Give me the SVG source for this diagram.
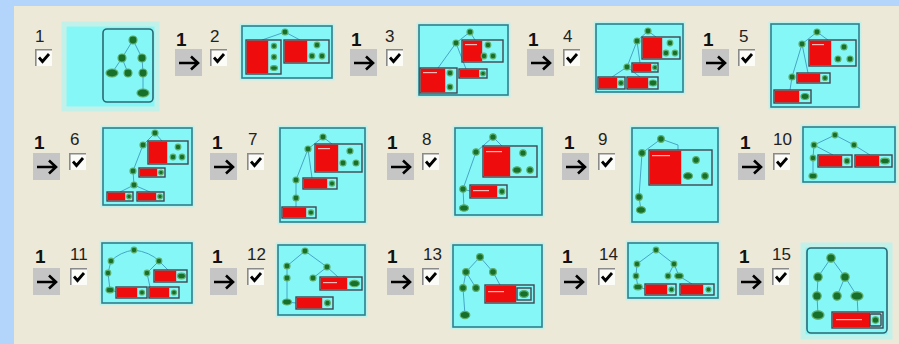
<svg xmlns="http://www.w3.org/2000/svg" xmlns:xlink="http://www.w3.org/1999/xlink" width="899" height="344" viewBox="0 0 899 344">
<style>
.lb{font-family:"Liberation Sans",Arial,sans-serif;font-size:17px;fill:#222}
.b1{font-family:"Liberation Sans",Arial,sans-serif;font-size:19px;font-weight:bold;fill:#111}
.glow{fill:#86f7f7;stroke:#c2f1ea;stroke-width:5}
.th{fill:#86f7f7;stroke:#2f7f8c;stroke-width:1.6}
.in{fill:none;stroke:#2a6a74;stroke-width:1.6}
.e{stroke:#3d9cc0;stroke-width:0.9;fill:none}
.n{fill:#16702a;stroke:#5eae6e;stroke-width:1.2}
.fr{fill:#86f7f7;stroke:#3e4650;stroke-width:1.4}
.rd{fill:#ee0c0c}
.tx{fill:#ffb8b8}
</style>
<defs>
<g id="cb">
<rect x="0" y="0" width="17" height="17" fill="#fbfbf8"/>
<path d="M0.8,17 V0.8 H17" stroke="#8a8a8a" stroke-width="1.6" fill="none"/>
<polyline points="4,8.5 7.5,12.5 14,5" stroke="#000" stroke-width="2.8" fill="none"/>
</g>
<g id="ab">
<rect x="0" y="0" width="27" height="27" fill="#c5c5c5"/>
<path d="M4,14 H23 M16,7.5 L23,14 L16,20.5" stroke="#000" stroke-width="2.6" fill="none"/>
</g>
</defs>
<rect x="0" y="0" width="899" height="344" fill="#b3d5fb"/>
<rect x="14" y="6" width="885" height="338" fill="#ece9d8"/>

<g id="connectors">
<text class="b1" x="176" y="46">1</text><use xlink:href="#ab" x="175" y="49"/>
<text class="b1" x="351" y="46">1</text><use xlink:href="#ab" x="350" y="49"/>
<text class="b1" x="528" y="46">1</text><use xlink:href="#ab" x="527" y="49"/>
<text class="b1" x="703" y="46">1</text><use xlink:href="#ab" x="702" y="49"/>
<text class="b1" x="34" y="149">1</text><use xlink:href="#ab" x="33" y="153"/>
<text class="b1" x="212" y="149">1</text><use xlink:href="#ab" x="210" y="153"/>
<text class="b1" x="387" y="149">1</text><use xlink:href="#ab" x="387" y="153"/>
<text class="b1" x="564" y="149">1</text><use xlink:href="#ab" x="562" y="153"/>
<text class="b1" x="740" y="149">1</text><use xlink:href="#ab" x="738" y="153"/>
<text class="b1" x="35" y="263">1</text><use xlink:href="#ab" x="33" y="268"/>
<text class="b1" x="212" y="263">1</text><use xlink:href="#ab" x="210" y="268"/>
<text class="b1" x="387" y="263">1</text><use xlink:href="#ab" x="387" y="268"/>
<text class="b1" x="562" y="263">1</text><use xlink:href="#ab" x="560" y="268"/>
<text class="b1" x="739" y="263">1</text><use xlink:href="#ab" x="737" y="268"/>
</g>

<g id="step1">
<text class="lb" x="35" y="42">1</text><use xlink:href="#cb" x="35" y="49"/>
<rect class="glow" x="64" y="24" width="93" height="85"/>
<rect class="in" x="103" y="29" width="50" height="73" rx="4"/>
<path class="e" d="M133,40 L122,58 M133,40 L142,58 M122,58 L112,73 M122,58 L128,73 M142,58 L143,73 M143,73 L143,93"/>
<circle class="n" cx="133" cy="40" r="4"/><circle class="n" cx="122" cy="58" r="4"/><circle class="n" cx="142" cy="58" r="4"/>
<ellipse class="n" cx="112" cy="73" rx="6" ry="4"/><circle class="n" cx="128" cy="73" r="4"/><circle class="n" cx="143" cy="73" r="4"/>
<ellipse class="n" cx="143" cy="93" rx="6" ry="4"/>
</g>

<g id="step2">
<text class="lb" x="210" y="42">2</text><use xlink:href="#cb" x="210" y="49"/>
<rect class="glow" x="242" y="26" width="90" height="52"/><rect class="th" x="242" y="26" width="90" height="52"/>
<path class="e" d="M285,32 L262,40 M285,32 L300,40"/>
<circle class="n" cx="285" cy="32" r="3"/>
<rect class="fr" x="246" y="40" width="35" height="34"/><rect class="rd" x="246.7" y="40.7" width="21.5" height="32.6"/>
<circle class="n" cx="274" cy="46" r="2.6"/><circle class="n" cx="274" cy="57" r="2.6"/><ellipse class="n" cx="274" cy="68" rx="3.5" ry="2.4"/>
<rect class="fr" x="284" y="40" width="45" height="23"/><rect class="rd" x="284.7" y="40.7" width="22.5" height="21.6"/>
<circle class="n" cx="317" cy="45" r="2.8"/><circle class="n" cx="312" cy="56" r="2.8"/><circle class="n" cx="322" cy="56" r="2.8"/>
</g>

<g id="step3">
<text class="lb" x="385" y="42">3</text><use xlink:href="#cb" x="386" y="49"/>
<rect class="glow" x="419" y="25" width="89" height="70"/><rect class="th" x="419" y="25" width="89" height="70"/>
<path class="e" d="M470,32 L456,43 M470,32 L475,40 M456,43 L438,68 M456,43 L466,69"/>
<circle class="n" cx="470" cy="32" r="3"/><circle class="n" cx="456" cy="43" r="3"/>
<rect class="fr" x="462" y="40" width="41" height="22"/><rect class="rd" x="462.7" y="40.7" width="19.5" height="20.6"/>
<rect class="tx" x="465" y="44" width="12" height="1.2"/>
<circle class="n" cx="488" cy="45" r="2.8"/><circle class="n" cx="484" cy="56" r="2.8"/><circle class="n" cx="493" cy="56" r="2.8"/>
<rect class="fr" x="420" y="68" width="37" height="25"/><rect class="rd" x="420.7" y="68.7" width="24.5" height="23.6"/>
<rect class="tx" x="423" y="72" width="14" height="1.2"/>
<circle class="n" cx="450" cy="73" r="2.8"/><circle class="n" cx="450" cy="87" r="2.8"/>
<rect class="fr" x="459" y="69" width="28" height="9"/><rect class="rd" x="459.7" y="69.7" width="19.5" height="7.6"/>
<circle class="n" cx="483" cy="73.5" r="2.4"/>
</g>

<g id="step4">
<text class="lb" x="563" y="42">4</text><use xlink:href="#cb" x="563" y="49"/>
<rect class="glow" x="596" y="24" width="87" height="68"/><rect class="th" x="596" y="24" width="87" height="68"/>
<path class="e" d="M648,31 L637,41 M648,31 L656,37 M637,41 L627,67 M627,67 L612,77 M627,67 L640,77 M637,41 L640,63"/>
<circle class="n" cx="648" cy="31" r="3"/><circle class="n" cx="637" cy="41" r="3"/><circle class="n" cx="627" cy="67" r="3"/>
<rect class="fr" x="642" y="37" width="38" height="22"/><rect class="rd" x="642.7" y="37.7" width="19.5" height="20.6"/>
<circle class="n" cx="670" cy="43" r="2.8"/><circle class="n" cx="666" cy="53" r="2.8"/><circle class="n" cx="675" cy="53" r="2.8"/>
<rect class="fr" x="632" y="63" width="26" height="9"/><rect class="rd" x="632.7" y="63.7" width="18.5" height="7.6"/><circle class="n" cx="655" cy="67.5" r="2.3"/>
<rect class="fr" x="627" y="77" width="31" height="12"/><rect class="rd" x="627.7" y="77.7" width="20.5" height="10.6"/><ellipse class="n" cx="653" cy="83" rx="3.8" ry="3"/>
<rect class="fr" x="598" y="77" width="27" height="12"/><rect class="rd" x="598.7" y="77.7" width="18.5" height="10.6"/><circle class="n" cx="621" cy="83" r="2.6"/>
</g>

<g id="step5">
<text class="lb" x="739" y="42">5</text><use xlink:href="#cb" x="738" y="49"/>
<rect class="glow" x="771" y="24" width="88" height="83"/><rect class="th" x="771" y="24" width="88" height="83"/>
<path class="e" d="M817,32 L802,44 M817,32 L828,40 M802,44 L792,77 M792,77 L790,90 M802,44 L808,73"/>
<circle class="n" cx="817" cy="32" r="3"/><circle class="n" cx="802" cy="44" r="3"/><circle class="n" cx="792" cy="77" r="3"/>
<rect class="fr" x="809" y="40" width="47" height="26"/><rect class="rd" x="809.7" y="40.7" width="21.5" height="24.6"/>
<rect class="tx" x="812" y="44" width="12" height="1.2"/>
<circle class="n" cx="844" cy="47" r="3"/><circle class="n" cx="838" cy="59" r="3"/><circle class="n" cx="850" cy="59" r="3"/>
<rect class="fr" x="797" y="73" width="33" height="10"/><rect class="rd" x="797.7" y="73.7" width="22.5" height="8.6"/><circle class="n" cx="825" cy="78" r="2.5"/>
<rect class="fr" x="774" y="90" width="37" height="13"/><rect class="rd" x="774.7" y="90.7" width="24.5" height="11.6"/><ellipse class="n" cx="805" cy="96.5" rx="4" ry="3"/>
</g>

<g id="step6">
<text class="lb" x="70" y="145">6</text><use xlink:href="#cb" x="69" y="153"/>
<rect class="glow" x="103" y="128" width="89" height="77"/><rect class="th" x="103" y="128" width="89" height="77"/>
<path class="e" d="M155,133 L143,145 M155,133 L162,141 M143,145 L133,171 M133,171 L134,185 M134,185 L120,192 M134,185 L150,192"/>
<circle class="n" cx="155" cy="133" r="3"/><circle class="n" cx="143" cy="145" r="3"/><circle class="n" cx="133" cy="171" r="3"/><circle class="n" cx="134" cy="185" r="3"/>
<rect class="fr" x="148" y="141" width="40" height="23"/><rect class="rd" x="148.7" y="141.7" width="18.5" height="21.6"/>
<circle class="n" cx="178" cy="147" r="2.8"/><circle class="n" cx="173" cy="157" r="2.8"/><circle class="n" cx="182" cy="157" r="2.8"/>
<rect class="fr" x="139" y="168" width="26" height="9"/><rect class="rd" x="139.7" y="168.7" width="17.5" height="7.6"/><circle class="n" cx="161" cy="172.5" r="2.3"/>
<rect class="fr" x="107" y="192" width="26" height="9"/><rect class="rd" x="107.7" y="192.7" width="17.5" height="7.6"/><circle class="n" cx="129" cy="196.5" r="2.3"/>
<rect class="fr" x="137" y="192" width="27" height="9"/><rect class="rd" x="137.7" y="192.7" width="18.5" height="7.6"/><circle class="n" cx="160" cy="196.5" r="2.3"/>
</g>

<g id="step7">
<text class="lb" x="248" y="145">7</text><use xlink:href="#cb" x="247" y="153"/>
<rect class="glow" x="280" y="128" width="85" height="94"/><rect class="th" x="280" y="128" width="85" height="94"/>
<path class="e" d="M323,137 L308,149 M323,137 L332,144 M308,149 L296,180 M296,180 L296,198 M296,198 L296,207 M308,149 L312,178"/>
<circle class="n" cx="323" cy="137" r="3"/><circle class="n" cx="308" cy="149" r="3"/><circle class="n" cx="296" cy="180" r="3"/><circle class="n" cx="296" cy="198" r="3"/>
<rect class="fr" x="315" y="144" width="47" height="28"/><rect class="rd" x="315.7" y="144.7" width="22.5" height="26.6"/>
<rect class="tx" x="318" y="148" width="12" height="1.2"/>
<circle class="n" cx="350" cy="151" r="3"/><circle class="n" cx="343" cy="163" r="3"/><circle class="n" cx="356" cy="163" r="3"/>
<rect class="fr" x="303" y="178" width="34" height="11"/><rect class="rd" x="303.7" y="178.7" width="23.5" height="9.6"/><circle class="n" cx="332" cy="183.5" r="2.6"/>
<rect class="fr" x="282" y="207" width="34" height="11"/><rect class="rd" x="282.7" y="207.7" width="23.5" height="9.6"/><circle class="n" cx="311" cy="212.5" r="2.6"/>
</g>

<g id="step8">
<text class="lb" x="422" y="145">8</text><use xlink:href="#cb" x="422" y="153"/>
<rect class="glow" x="455" y="128" width="87" height="87"/><rect class="th" x="455" y="128" width="87" height="87"/>
<path class="e" d="M493,137 L476,152 M493,137 L502,146 M476,152 L463,189 M463,189 L464,208 M463,189 L470,191"/>
<circle class="n" cx="493" cy="137" r="3.2"/><circle class="n" cx="476" cy="152" r="3.2"/><circle class="n" cx="463" cy="189" r="3.2"/><ellipse class="n" cx="464" cy="208" rx="4.5" ry="3.2"/>
<rect class="fr" x="483" y="146" width="54" height="31"/><rect class="rd" x="483.7" y="146.7" width="26.5" height="29.6"/>
<rect class="tx" x="486" y="151" width="16" height="1.2"/>
<circle class="n" cx="523" cy="153" r="3.2"/><ellipse class="n" cx="517" cy="170" rx="4.2" ry="3.2"/><circle class="n" cx="530" cy="170" r="3.2"/>
<rect class="fr" x="470" y="185" width="37" height="13"/><rect class="rd" x="470.7" y="185.7" width="26.5" height="11.6"/>
<rect class="tx" x="473" y="190" width="16" height="1.2"/><circle class="n" cx="502" cy="191.5" r="2.8"/>
</g>

<g id="step9">
<text class="lb" x="598" y="145">9</text><use xlink:href="#cb" x="598" y="153"/>
<rect class="glow" x="632" y="128" width="86" height="94"/><rect class="th" x="632" y="128" width="86" height="94"/>
<path class="e" d="M661,139 L642,153 M661,139 L678,145 L678,150 M642,153 L639,197 M639,197 L641,210"/>
<circle class="n" cx="661" cy="139" r="3.3"/><circle class="n" cx="642" cy="153" r="3.3"/><circle class="n" cx="639" cy="197" r="3.3"/><ellipse class="n" cx="641" cy="210" rx="4.5" ry="3.3"/>
<rect class="fr" x="649" y="150" width="63" height="35"/><rect class="rd" x="649.7" y="150.7" width="31.5" height="33.6"/>
<rect class="tx" x="652" y="155" width="18" height="1.2"/>
<circle class="n" cx="696" cy="160" r="3.3"/><ellipse class="n" cx="688" cy="176" rx="4.5" ry="3.3"/><circle class="n" cx="705" cy="176" r="3.3"/>
</g>

<g id="step10">
<text class="lb" x="773" y="145">10</text><use xlink:href="#cb" x="773" y="153"/>
<rect class="glow" x="803" y="127" width="92" height="55"/><rect class="th" x="803" y="127" width="92" height="55"/>
<path class="e" d="M835,135 L814,145 M835,135 L854,145 M814,145 L813,158 M813,158 L813,176 M814,145 L833,155 M854,145 L870,155"/>
<circle class="n" cx="835" cy="135" r="2.8"/><circle class="n" cx="814" cy="145" r="2.8"/><circle class="n" cx="854" cy="145" r="2.8"/><circle class="n" cx="813" cy="158" r="2.8"/><ellipse class="n" cx="813" cy="176" rx="4" ry="2.8"/>
<rect class="fr" x="818" y="155" width="34" height="12"/><rect class="rd" x="818.7" y="155.7" width="23.5" height="10.6"/><circle class="n" cx="847" cy="161" r="2.8"/>
<rect class="fr" x="855" y="155" width="37" height="12"/><rect class="rd" x="855.7" y="155.7" width="23.5" height="10.6"/><ellipse class="n" cx="885" cy="161" rx="4.5" ry="2.8"/>
</g>

<g id="step11">
<text class="lb" x="70" y="260">11</text><use xlink:href="#cb" x="70" y="268"/>
<rect class="glow" x="102" y="243" width="90" height="60"/><rect class="th" x="102" y="243" width="90" height="60"/>
<path class="e" d="M134,250 Q120,252 111,261 M134,250 Q150,252 159,261 M111,261 L108,273 M108,273 L110,290 M159,261 L147,273 M159,261 L168,270 M110,290 L117,292 M147,273 L150,287"/>
<circle class="n" cx="134" cy="250" r="2.8"/><circle class="n" cx="111" cy="261" r="2.8"/><circle class="n" cx="159" cy="261" r="2.8"/><circle class="n" cx="108" cy="273" r="2.8"/><circle class="n" cx="147" cy="273" r="2.8"/><ellipse class="n" cx="110" cy="290" rx="4" ry="2.8"/>
<rect class="fr" x="154" y="270" width="33" height="12"/><rect class="rd" x="154.7" y="270.7" width="21.5" height="10.6"/><ellipse class="n" cx="181.5" cy="276" rx="4" ry="2.8"/>
<rect class="fr" x="116" y="287" width="31" height="11"/><rect class="rd" x="116.7" y="287.7" width="20.5" height="9.6"/><circle class="n" cx="142" cy="292.5" r="2.5"/>
<rect class="fr" x="149" y="287" width="30" height="11"/><rect class="rd" x="149.7" y="287.7" width="19.5" height="9.6"/><circle class="n" cx="174" cy="292.5" r="2.5"/>
</g>

<g id="step12">
<text class="lb" x="247" y="260">12</text><use xlink:href="#cb" x="247" y="268"/>
<rect class="glow" x="278" y="245" width="87" height="70"/><rect class="th" x="278" y="245" width="87" height="70"/>
<path class="e" d="M305,251 L287,266 M305,251 L327,267 M287,266 L287,278 M287,278 L287,302 M327,267 L313,278 M327,267 L338,277 M287,302 L296,303"/>
<circle class="n" cx="305" cy="251" r="3"/><circle class="n" cx="287" cy="266" r="3"/><circle class="n" cx="327" cy="267" r="3"/><circle class="n" cx="287" cy="278" r="3"/><circle class="n" cx="313" cy="278" r="3"/><ellipse class="n" cx="287" cy="302" rx="4.5" ry="3"/>
<rect class="fr" x="320" y="277" width="42" height="13"/><rect class="rd" x="320.7" y="277.7" width="26.5" height="11.6"/>
<rect class="tx" x="323" y="282" width="14" height="1.2"/><ellipse class="n" cx="354.5" cy="283.5" rx="5" ry="3.2"/>
<rect class="fr" x="296" y="297" width="37" height="12"/><rect class="rd" x="296.7" y="297.7" width="25.5" height="10.6"/><circle class="n" cx="327.5" cy="303" r="2.8"/>
</g>

<g id="step13">
<text class="lb" x="423" y="260">13</text><use xlink:href="#cb" x="422" y="268"/>
<rect class="glow" x="453" y="245" width="89" height="82"/><rect class="th" x="453" y="245" width="89" height="82"/>
<path class="e" d="M480,257 L466,272 M480,257 L493,272 M466,272 L463,288 M466,272 L476,288 M493,272 L500,285 M463,288 L465,315"/>
<circle class="n" cx="480" cy="257" r="3.4"/><circle class="n" cx="466" cy="272" r="3.4"/><circle class="n" cx="493" cy="272" r="3.4"/><circle class="n" cx="463" cy="288" r="3.4"/><circle class="n" cx="476" cy="288" r="3.4"/><ellipse class="n" cx="465" cy="315" rx="4.8" ry="3.6"/>
<rect class="fr" x="485" y="285" width="49" height="18"/><rect class="rd" x="485.7" y="285.7" width="30.5" height="16.6"/>
<rect class="tx" x="488" y="291" width="16" height="1.2"/>
<rect class="fr" x="517" y="288" width="14" height="12"/><ellipse class="n" cx="524" cy="294" rx="4.5" ry="3.4"/>
</g>

<g id="step14">
<text class="lb" x="599" y="260">14</text><use xlink:href="#cb" x="598" y="268"/>
<rect class="glow" x="628" y="243" width="90" height="55"/><rect class="th" x="628" y="243" width="90" height="55"/>
<path class="e" d="M656,250 L637,264 M656,250 L674,264 M637,264 L636,276 M636,276 L638,287 M674,264 L668,276 M674,264 L679,276 M679,276 L692,284 M638,287 L645,289"/>
<circle class="n" cx="656" cy="250" r="2.8"/><circle class="n" cx="637" cy="264" r="2.8"/><circle class="n" cx="674" cy="264" r="2.8"/><circle class="n" cx="636" cy="276" r="2.8"/><circle class="n" cx="668" cy="276" r="2.8"/><ellipse class="n" cx="679" cy="276" rx="4.2" ry="2.8"/><ellipse class="n" cx="638" cy="287" rx="4.2" ry="2.8"/>
<rect class="fr" x="645" y="284" width="31" height="11"/><rect class="rd" x="645.7" y="284.7" width="21.5" height="9.6"/><circle class="n" cx="671.5" cy="289.5" r="2.5"/>
<rect class="fr" x="680" y="284" width="34" height="11"/><rect class="rd" x="680.7" y="284.7" width="22.5" height="9.6"/><circle class="n" cx="708.5" cy="289.5" r="2.5"/>
</g>

<g id="step15">
<text class="lb" x="772" y="260">15</text><use xlink:href="#cb" x="772" y="268"/>
<rect class="glow" x="803" y="245" width="87" height="92"/>
<rect class="in" x="807" y="248" width="80" height="85" rx="4"/>
<path class="e" d="M831,258 L818,277 M831,258 L845,277 M818,277 L817,296 M845,277 L837,296 M845,277 L857,296 M817,296 L818,315 M857,296 L858,313"/>
<circle class="n" cx="831" cy="258" r="4.2"/><circle class="n" cx="818" cy="277" r="4.2"/><circle class="n" cx="845" cy="277" r="4.2"/>
<circle class="n" cx="817" cy="296" r="4.2"/><circle class="n" cx="837" cy="296" r="4.2"/><ellipse class="n" cx="857" cy="296" rx="6" ry="4.2"/><ellipse class="n" cx="818" cy="315" rx="6" ry="4.2"/>
<rect class="fr" x="832" y="312" width="51" height="16"/><rect class="rd" x="832.7" y="312.7" width="37.5" height="14.6"/>
<rect class="tx" x="836" y="319" width="26" height="1.2"/>
<rect class="fr" x="870" y="314" width="11" height="12" rx="1"/><circle class="n" cx="875.5" cy="320" r="3.2"/>
</g>
</svg>
